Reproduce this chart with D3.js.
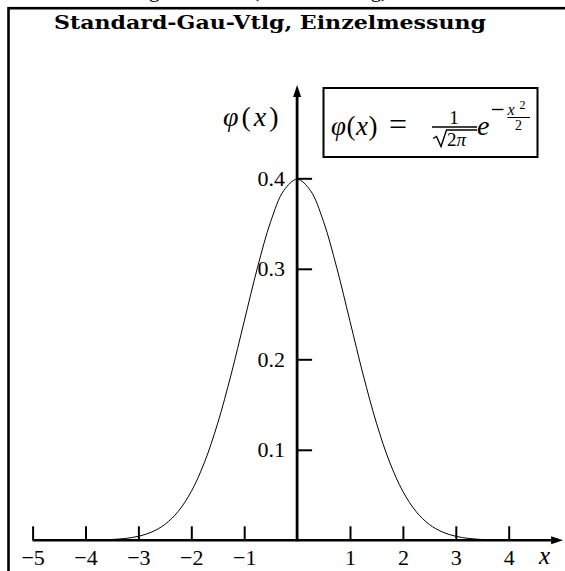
<!DOCTYPE html>
<html>
<head>
<meta charset="utf-8">
<script src="https://cdn.jsdelivr.net/npm/d3@7"></script>
<style>
  html, body { margin: 0; padding: 0; background: #fff; }
  svg { display: block; }
  text { fill: #000; }
</style>
</head>
<body>
<svg id="chart" width="565" height="571"></svg>
<script>
// Standard normal density, sampled every 0.25 from -4 to 4
const xValues = [
  -4, -3.75, -3.5, -3.25, -3, -2.75, -2.5, -2.25, -2, -1.75, -1.5, -1.25, -1, -0.75, -0.5, -0.25,
  0, 0.25, 0.5, 0.75, 1, 1.25, 1.5, 1.75, 2, 2.25, 2.5, 2.75, 3, 3.25, 3.5, 3.75, 4
];
const phiValues = [
  0.00013, 0.00035, 0.00087, 0.00203, 0.00443, 0.00909, 0.01753, 0.03174, 0.05399, 0.08628, 0.12952, 0.18265, 0.24197, 0.30114, 0.35207, 0.38667,
  0.39894, 0.38667, 0.35207, 0.30114, 0.24197, 0.18265, 0.12952, 0.08628, 0.05399, 0.03174, 0.01753, 0.00909, 0.00443, 0.00203, 0.00087, 0.00035, 0.00013
];
const xTickValues = [-5, -4, -3, -2, -1, 1, 2, 3, 4];
const yTickValues = [0.1, 0.2, 0.3, 0.4];
const titleText = "Standard-Gau-Vtlg, Einzelmessung";
const captionText = "Normalverteilung der Dichte (Einzelmessung)";

const SERIF = "'Liberation Serif', 'DejaVu Serif', serif";
const svg = d3.select("#chart");

const x = d3.scaleLinear().domain([-5, 5]).range([32.6, 561.6]);
const y = d3.scaleLinear().domain([0, 0.4]).range([540.3, 178.3]);

// caption line running off the top edge
svg.append("text")
  .attr("x", 16).attr("y", -3.5)
  .style("font-family", SERIF).style("font-size", "22px")
  .attr("textLength", 372).attr("lengthAdjust", "spacing")
  .text(captionText);

// frame
svg.append("rect")
  .attr("x", 8.5).attr("y", 8.2)
  .attr("width", 600).attr("height", 600)
  .attr("fill", "none").attr("stroke", "#000").attr("stroke-width", 2.6);

// title (wide bold serif)
svg.append("text")
  .attr("x", 54).attr("y", 28.5)
  .style("font-family", "'DejaVu Serif', serif")
  .style("font-weight", "bold")
  .style("font-size", "18.5px")
  .attr("textLength", 432).attr("lengthAdjust", "spacingAndGlyphs")
  .text(titleText);

// x axis
const xAxis = d3.axisBottom(x)
  .tickValues(xTickValues)
  .tickSize(-14)
  .tickPadding(9)
  .tickFormat(d => d < 0 ? "\u2212" + Math.abs(d) : String(d));
const gx = svg.append("g").attr("transform", `translate(0,${y(0)})`).call(xAxis);
gx.select(".domain").remove();
gx.selectAll(".tick line").attr("stroke", "#000").attr("stroke-width", 2);
gx.selectAll(".tick text")
  .style("font-family", SERIF).style("font-size", "22px").attr("fill", "#000");

// y axis
const yAxis = d3.axisLeft(y)
  .tickValues(yTickValues)
  .tickSize(-15)
  .tickPadding(12)
  .tickFormat(d3.format(".1f"));
const gy = svg.append("g").attr("transform", `translate(${x(0)},0)`).call(yAxis);
gy.select(".domain").remove();
gy.selectAll(".tick line").attr("stroke", "#000").attr("stroke-width", 2);
gy.selectAll(".tick text")
  .style("font-family", SERIF).style("font-size", "22px").attr("fill", "#000");

// axis lines with arrow heads
const x0 = x(0), y0 = y(0);
const xEnd = x(5) + 1.5, yEnd = 85;
svg.append("line")
  .attr("x1", x(-5)).attr("x2", xEnd - 8).attr("y1", y0).attr("y2", y0)
  .attr("stroke", "#000").attr("stroke-width", 2.6);
svg.append("path")
  .attr("d", `M${xEnd},${y0} L${xEnd - 12},${y0 - 4} L${xEnd - 12},${y0 + 4} Z`)
  .attr("fill", "#000");
svg.append("line")
  .attr("x1", x0).attr("x2", x0).attr("y1", y0 + 1).attr("y2", yEnd + 8)
  .attr("stroke", "#000").attr("stroke-width", 2.8);
svg.append("path")
  .attr("d", `M${x0},${yEnd} L${x0 - 4},${yEnd + 12} L${x0 + 4},${yEnd + 12} Z`)
  .attr("fill", "#000");

// density curve
const points = xValues.map((v, i) => [v, phiValues[i]]);
svg.append("path")
  .datum(points)
  .attr("d", d3.line().x(d => x(d[0])).y(d => y(d[1])).curve(d3.curveCatmullRom))
  .attr("fill", "none").attr("stroke", "#000").attr("stroke-width", 1);

// axis labels
svg.append("text")
  .attr("x", 539).attr("y", 564)
  .style("font-family", SERIF).style("font-style", "italic").style("font-size", "25px")
  .text("x");

function phiOfX(sel, px, py, size, spacing) {
  const t = sel.append("text").attr("x", px).attr("y", py)
    .style("font-family", SERIF).style("font-size", size + "px")
    .style("letter-spacing", spacing + "px");
  t.append("tspan").style("font-style", "italic").text("\u03C6");
  t.append("tspan").text("(");
  t.append("tspan").style("font-style", "italic").text("x");
  t.append("tspan").text(")");
  return t;
}
phiOfX(svg, 223, 126, 28, 3);

// formula box
svg.append("rect")
  .attr("x", 323.5).attr("y", 88)
  .attr("width", 214).attr("height", 69)
  .attr("fill", "#fff").attr("stroke", "#000").attr("stroke-width", 2);

const f = svg.append("g");
phiOfX(f, 331, 135, 27, 0.5);
f.append("text").attr("x", 398).attr("y", 135)
  .style("font-family", SERIF).style("font-size", "32px")
  .attr("text-anchor", "middle").text("=");

// 1 / sqrt(2 pi)
f.append("text").attr("x", 454).attr("y", 123.5)
  .style("font-family", SERIF).style("font-size", "19px")
  .attr("text-anchor", "middle").text("1");
f.append("line").attr("x1", 432).attr("x2", 477).attr("y1", 127).attr("y2", 127)
  .attr("stroke", "#000").attr("stroke-width", 1.4);
f.append("path")
  .attr("d", "M433,138.5 L436.5,136.5 L441,146.5 L446.5,130 L477,130")
  .attr("fill", "none").attr("stroke", "#000").attr("stroke-width", 1.4);
const den = f.append("text").attr("x", 447).attr("y", 146)
  .style("font-family", SERIF).style("font-size", "19px");
den.append("tspan").text("2");
den.append("tspan").style("font-style", "italic").text("\u03C0");

// e^{-x^2/2}
f.append("text").attr("x", 477).attr("y", 135)
  .style("font-family", SERIF).style("font-size", "28px").style("font-style", "italic")
  .text("e");
f.append("line").attr("x1", 492).attr("x2", 503.5).attr("y1", 109.5).attr("y2", 109.5)
  .attr("stroke", "#000").attr("stroke-width", 1.4);
f.append("text").attr("x", 507.5).attr("y", 115)
  .style("font-family", SERIF).style("font-size", "16px").style("font-style", "italic")
  .text("x");
f.append("text").attr("x", 519.5).attr("y", 109)
  .style("font-family", SERIF).style("font-size", "12px").text("2");
f.append("line").attr("x1", 507.5).attr("x2", 530).attr("y1", 117.5).attr("y2", 117.5)
  .attr("stroke", "#000").attr("stroke-width", 1);
f.append("text").attr("x", 518.5).attr("y", 130)
  .style("font-family", SERIF).style("font-size", "14px")
  .attr("text-anchor", "middle").text("2");
</script>
</body>
</html>
